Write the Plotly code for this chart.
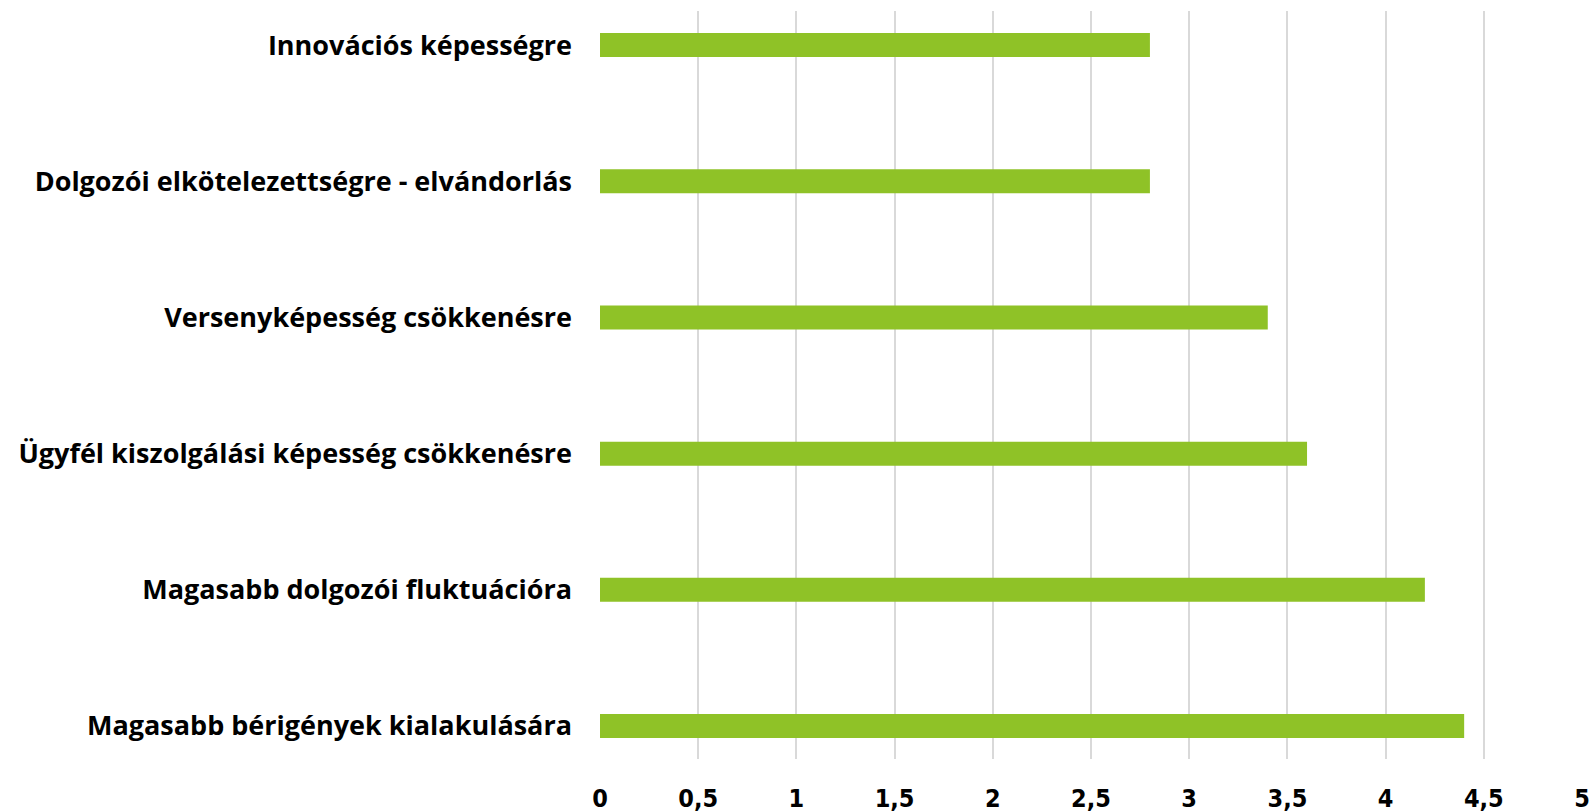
import plotly.graph_objects as go

categories = [
    "Magasabb bérigények kialakulására",
    "Magasabb dolgozói fluktuációra",
    "Ügyfél kiszolgálási képesség csökkenésre",
    "Versenyképesség csökkenésre",
    "Dolgozói elkötelezettségre - elvándorlás",
    "Innovációs képességre",
]
values = [4.4, 4.2, 3.6, 3.4, 2.8, 2.8]
x_tickvals = [0, 0.5, 1, 1.5, 2, 2.5, 3, 3.5, 4, 4.5, 5]
x_ticktext = ["0", "0,5", "1", "1,5", "2", "2,5", "3", "3,5", "4", "4,5", "5"]

W, H = 1593, 812

fig = go.Figure(go.Bar(
    y=categories, x=values, orientation="h",
    marker=dict(color="#8fc227", line=dict(width=0)),
    width=0.176,
))

fig.update_layout(
    width=W, height=H,
    margin=dict(l=600, r=11, t=11, b=53, pad=0),
    paper_bgcolor="white", plot_bgcolor="white",
    showlegend=False,
    font=dict(family="DejaVu Sans", color="black"),
)
fig.update_xaxes(
    range=[0, 5], tickvals=x_tickvals, ticktext=x_ticktext,
    showgrid=True, gridcolor="#d9d9d9", gridwidth=2,
    zeroline=False, showline=False, automargin=False,
    tickfont=dict(family="DejaVu Sans Condensed", size=25, color="black", weight="bold"),
    ticklabelstandoff=22,
)
fig.update_yaxes(
    type="category", categoryorder="array", categoryarray=categories,
    range=[-0.242, 5.25], automargin=False,
    showgrid=False, zeroline=False, showline=False,
    tickfont=dict(family="Open Sans", size=27, color="black", weight="bold"),
    ticklabelstandoff=27,
)
fig.write_html(
    "out.html",
    config={"displayModeBar": False},
    post_script="document.body.style.margin='0';document.body.style.overflow='hidden';",
)
